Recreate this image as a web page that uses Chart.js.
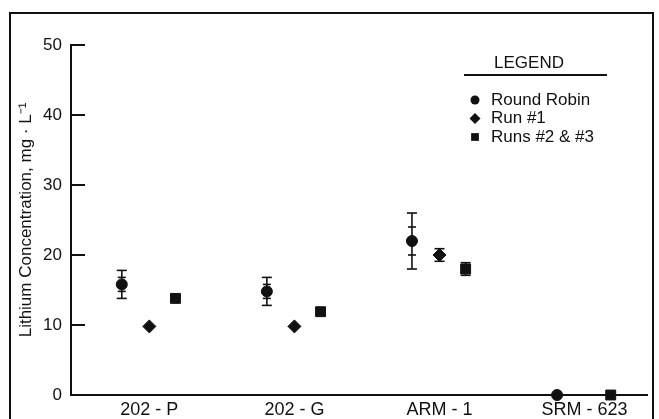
<!DOCTYPE html>
<html>
<head>
<meta charset="utf-8">
<script src="https://cdn.jsdelivr.net/npm/chart.js@4.4.0/dist/chart.umd.min.js"></script>
<style>
  html, body { margin: 0; padding: 0; background: #fff; }
</style>
</head>
<body>
<canvas id="c" width="659" height="419"></canvas>
<script>
// data
const categories = ['202 - P', '202 - G', 'ARM - 1', 'SRM - 623'];
const roundRobin = [15.8, 14.8, 22.0, 0];
const roundRobinOuterErr = [2.0, 2.0, 4.0, null];
const roundRobinInnerErr = [1.0, 1.0, 2.0, null];
const run1 = [9.8, 9.8, 20.0, null];
const run1Err = [null, null, 0.9, null];
const runs23 = [13.8, 11.9, 18.0, 0];
const runs23Err = [null, null, 0.9, null];
const yTicks = [0, 10, 20, 30, 40, 50];

const FONT = '"Liberation Sans", Arial, Helvetica, sans-serif';
const INK = '#111';

// each series sits a little left / centre / right of its sample
function toPoints(values, shift){
  return values.map((v, i) => ({ x: i + 1 + shift, y: v }));
}

function line(ctx, x1, y1, x2, y2){
  ctx.beginPath(); ctx.moveTo(x1, y1); ctx.lineTo(x2, y2); ctx.stroke();
}

// outer frame round the whole figure
const frame = {
  id: 'frame',
  beforeDraw(chart){
    const ctx = chart.ctx;
    ctx.save();
    ctx.fillStyle = '#fff';
    ctx.fillRect(0, 0, chart.width, chart.height);
    ctx.strokeStyle = INK; ctx.lineWidth = 2;
    ctx.strokeRect(10, 13, 643, 430);
    ctx.restore();
  }
};

// y ticks point inward, into the plot
const innerTicks = {
  id: 'innerTicks',
  afterDraw(chart){
    const {ctx, scales: {y}, chartArea} = chart;
    ctx.save();
    ctx.strokeStyle = INK; ctx.lineWidth = 2;
    y.ticks.forEach(t => {
      const py = Math.round(y.getPixelForValue(t.value));
      line(ctx, chartArea.left, py, chartArea.left + 14, py);
    });
    ctx.restore();
  }
};

const errorBars = {
  id: 'errorBars',
  afterDatasetsDraw(chart){
    const {ctx, scales: {y}} = chart;
    ctx.save();
    ctx.strokeStyle = INK; ctx.lineWidth = 1.6;
    chart.data.datasets.forEach((ds, di) => {
      const meta = chart.getDatasetMeta(di);
      meta.data.forEach((pt, i) => {
        const v = ds.data[i].y;
        if (v === null) return;
        const outer = ds.errOuter ? ds.errOuter[i] : null;
        const inner = ds.errInner ? ds.errInner[i] : null;
        if (outer != null){
          const top = y.getPixelForValue(v + outer), bot = y.getPixelForValue(v - outer);
          line(ctx, pt.x, top, pt.x, bot);
          line(ctx, pt.x - 5, top, pt.x + 5, top);
          line(ctx, pt.x - 5, bot, pt.x + 5, bot);
        }
        if (inner != null){
          const top = y.getPixelForValue(v + inner), bot = y.getPixelForValue(v - inner);
          line(ctx, pt.x - 4, top, pt.x + 4, top);
          line(ctx, pt.x - 4, bot, pt.x + 4, bot);
        }
      });
    });
    ctx.restore();
  }
};

// boxed "LEGEND" block, top right
const legendBlock = {
  id: 'legendBlock',
  afterDraw(chart){
    const ctx = chart.ctx;
    ctx.save();
    ctx.fillStyle = INK; ctx.strokeStyle = INK;
    ctx.font = '17px ' + FONT;
    ctx.textBaseline = 'middle';
    ctx.textAlign = 'center';
    ctx.fillText('LEGEND', 529, 63);
    ctx.lineWidth = 2;
    line(ctx, 464, 75, 607, 75);
    ctx.textAlign = 'left';
    chart.data.datasets.forEach((ds, i) => {
      const yy = 100 + i * 18.5;
      Chart.helpers.drawPoint(ctx, {
        pointStyle: ds.pointStyle, radius: ds.legendRadius, rotation: 0, borderWidth: 0
      }, 475, yy);
      ctx.fillText(ds.label, 491, yy);
    });
    ctx.restore();
  }
};

new Chart(document.getElementById('c'), {
  type: 'scatter',
  data: {
    datasets: [
      { label: 'Round Robin', data: toPoints(roundRobin, -0.19), pointStyle: 'circle', pointRadius: 5.5,
        legendRadius: 4.5, errOuter: roundRobinOuterErr, errInner: roundRobinInnerErr },
      { label: 'Run #1', data: toPoints(run1, 0), pointStyle: 'rectRot', pointRadius: 6.5,
        legendRadius: 5.5, errOuter: run1Err },
      { label: 'Runs #2 & #3', data: toPoints(runs23, 0.18), pointStyle: 'rect', pointRadius: 7,
        legendRadius: 5.5, errOuter: runs23Err }
    ].map(ds => Object.assign(ds, {
      backgroundColor: INK, borderColor: INK, pointBorderWidth: 1, clip: false
    }))
  },
  options: {
    responsive: false,
    animation: false,
    layout: { padding: { top: 45, right: 12, bottom: 0, left: 0 } },
    plugins: { legend: { display: false }, tooltip: { enabled: false } },
    scales: {
      x: {
        type: 'linear', min: 0.46, max: 4.43,
        afterBuildTicks: s => { s.ticks = categories.map((c, i) => ({ value: i + 1 })); },
        afterFit: s => { s.height = 24; },
        grid: { display: false, drawTicks: false },
        border: { display: true, color: INK, width: 2 },
        ticks: {
          callback: v => categories[Math.round(v) - 1],
          font: { family: FONT, size: 18 }, color: INK, padding: 4,
          maxRotation: 0, autoSkip: false
        }
      },
      y: {
        min: 0, max: 50,
        afterBuildTicks: s => { s.ticks = yTicks.map(v => ({ value: v })); },
        afterFit: s => { s.width = 71; },
        grid: { display: false, drawTicks: false },
        border: { display: true, color: INK, width: 2 },
        ticks: { font: { family: FONT, size: 17 }, color: INK, padding: 9 },
        title: {
          display: true, text: 'Lithium Concentration, mg · L⁻¹',
          font: { family: FONT, size: 17 }, color: INK, padding: { top: 16, bottom: 0 }
        }
      }
    }
  },
  plugins: [frame, innerTicks, errorBars, legendBlock]
});
</script>
</body>
</html>
